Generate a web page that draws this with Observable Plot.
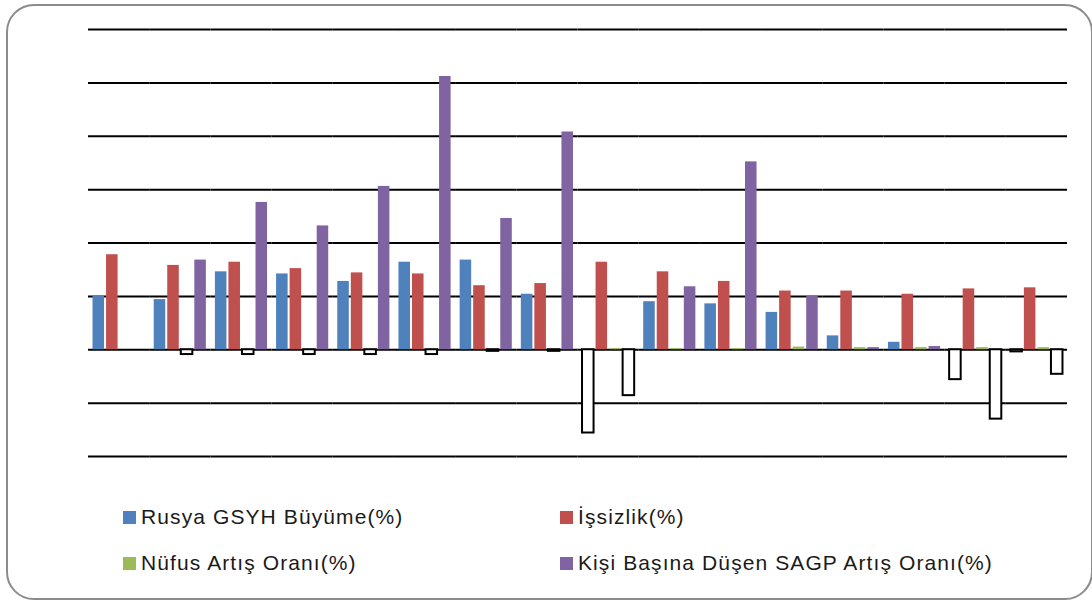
<!DOCTYPE html>
<html>
<head>
<meta charset="utf-8">
<script src="https://cdn.jsdelivr.net/npm/d3@7"></script>
<script src="https://cdn.jsdelivr.net/npm/@observablehq/plot@0.6"></script>
<style>
  html, body { margin: 0; padding: 0; background: #fff; }
  #wrap { position: relative; width: 1092px; height: 601px; overflow: hidden; background: #fff; }
  #frame { position: absolute; left: 6px; top: 4px; width: 1083px; height: 592px;
           border: 2px solid #8c8c8c; border-radius: 28px; box-sizing: content-box; }
  #chart { position: absolute; left: 0; top: 0; }
  .legend { position: absolute; font-family: "Liberation Sans", Arial, sans-serif; font-size: 21px;
            letter-spacing: 1.1px; color: #1a1a1a; white-space: nowrap; display: flex; align-items: center; }
  .legend .sw { display: inline-block; width: 13px; height: 13px; margin-right: 5px; }
</style>
</head>
<body>
<div id="wrap">
  <div id="frame"></div>
  <div id="chart"></div>
</div>
<script>
// Categories (years; no labels shown in the reference)
const years = ["2001","2002","2003","2004","2005","2006","2007","2008",
               "2009","2010","2011","2012","2013","2014","2015","2016"];
// Series names
const seriesNames = ["Rusya GSYH Büyüme(%)", "İşsizlik(%)", "Nüfus Artış Oranı(%)", "Kişi Başına Düşen SAGP Artış Oranı(%)"];
const seriesColors = ["#4F81BD", "#C0504D", "#9BBB59", "#8064A2"];
// Series values (%)
const gdpGrowth    = [5.0, 4.7, 7.3, 7.1, 6.4, 8.2, 8.4, 5.2, -7.8, 4.5, 4.3, 3.5, 1.3, 0.7, -2.8, -0.2];
const unemployment = [8.9, 7.9, 8.2, 7.6, 7.2, 7.1, 6.0, 6.2, 8.2, 7.3, 6.4, 5.5, 5.5, 5.2, 5.7, 5.8];
const population   = [null, -0.45, -0.45, -0.45, -0.45, -0.45, -0.15, -0.15, 0.1, 0.1, 0.1, 0.25, 0.2, 0.2, 0.2, 0.2];
const pppPerCapita = [null, 8.4, 13.8, 11.6, 15.3, 25.6, 12.3, 20.4, -4.3, 5.9, 17.6, 5.0, 0.2, 0.3, -6.5, -2.3];
// Gridline values
const gridTicks = [-10, -5, 0, 5, 10, 15, 20, 25, 30];

const allSeries = [gdpGrowth, unemployment, population, pppPerCapita];
const rows = [];
years.forEach((yr, i) => {
  allSeries.forEach((vals, s) => {
    if (vals[i] != null) rows.push({year: yr, series: seriesNames[s], value: vals[i], color: seriesColors[s]});
  });
});

const chart = Plot.plot({
  width: 1092,
  height: 470,
  marginLeft: 88,
  marginRight: 25,
  marginTop: 29,
  marginBottom: 14,
  style: {background: "transparent", overflow: "visible"},
  fx: {domain: years, axis: null, paddingInner: 0.115, paddingOuter: 0.0575, round: false},
  x: {domain: seriesNames, axis: null, padding: 0, round: false},
  y: {domain: [-10, 30], axis: null},
  color: {type: "identity"},
  marks: [
    Plot.ruleY(gridTicks, {stroke: "#000", strokeWidth: 2, strokeLinecap: "butt", insetLeft: -3.52, insetRight: -3.52}),
    Plot.barY(rows, {
      fx: "year", x: "series", y: "value",
      fill: d => d.value < 0 ? "white" : d.color,
      stroke: d => d.value < 0 ? "black" : "none",
      strokeWidth: 2,
      insetLeft: 1, insetRight: 1
    })
  ]
});
document.getElementById("chart").appendChild(chart);

// Legend (HTML, below the plot area)
const legendPos = [
  {left: 123, top: 505}, {left: 560, top: 505},
  {left: 123, top: 551}, {left: 560, top: 551}
];
const wrap = document.getElementById("wrap");
seriesNames.forEach((name, i) => {
  const el = document.createElement("div");
  el.className = "legend";
  el.style.left = legendPos[i].left + "px";
  el.style.top = legendPos[i].top + "px";
  el.style.height = "24px";
  const sw = document.createElement("span");
  sw.className = "sw";
  sw.style.background = seriesColors[i];
  const tx = document.createElement("span");
  tx.textContent = name;
  el.appendChild(sw);
  el.appendChild(tx);
  wrap.appendChild(el);
});
</script>
</body>
</html>
